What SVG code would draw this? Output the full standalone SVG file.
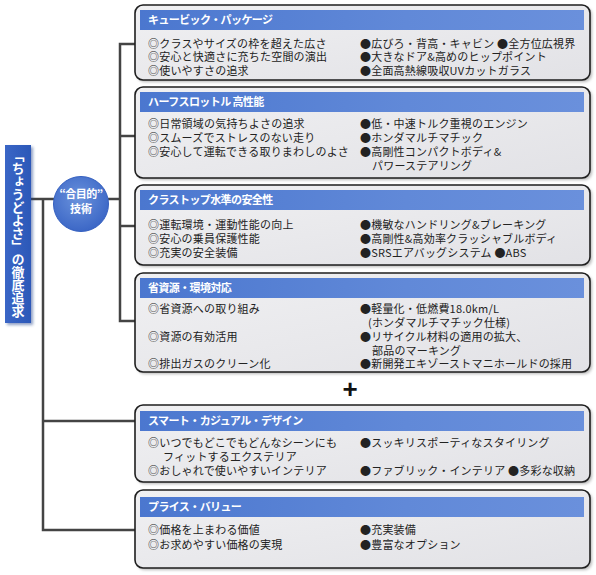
<svg xmlns="http://www.w3.org/2000/svg" width="596" height="575" viewBox="0 0 596 575">
<defs>
<linearGradient id="boxg" x1="0" y1="0" x2="1" y2="1"><stop offset="0" stop-color="#f0f0f2"/><stop offset="1" stop-color="#e2e2e6"/></linearGradient>
<linearGradient id="hdr" x1="0" y1="0" x2="1" y2="0"><stop offset="0" stop-color="#4b77cf"/><stop offset="0.6" stop-color="#6189d8"/><stop offset="1" stop-color="#6a90dc"/></linearGradient>
<linearGradient id="lbl" x1="0" y1="0" x2="1" y2="0"><stop offset="0" stop-color="#3a66c6"/><stop offset="1" stop-color="#2c58b8"/></linearGradient>
<radialGradient id="circ" cx="0.45" cy="0.4" r="0.6"><stop offset="0" stop-color="#6a92dc"/><stop offset="1" stop-color="#3c67c6"/></radialGradient>
<filter id="sh" x="-5%" y="-5%" width="115%" height="125%"><feGaussianBlur stdDeviation="1.5"/></filter>
</defs>
<style>
.box{fill:url(#boxg);stroke:#1e1e1e;stroke-width:1.6}
.shd{fill:#8a8a8a;opacity:0.6}
.hd{fill:url(#hdr)}
.ttl{font-family:"Noto Sans CJK JP","Noto Sans",sans-serif;font-size:11px;font-weight:bold;fill:#fff;letter-spacing:-0.6px}
.t{font-family:"Noto Sans CJK JP","Noto Sans",sans-serif;font-size:11px;fill:#222;letter-spacing:0.2px}
.con{fill:none;stroke:#444;stroke-width:2.5}
.wt{font-family:"Noto Sans CJK JP","Noto Sans",sans-serif;font-weight:bold;fill:#fff}
</style>
<rect width="596" height="575" fill="#fff"/>
<g id="connectors">
<path class="con" d="M31 199 H54"/>
<path class="con" d="M43 199 V530 H135"/>
<path class="con" d="M43 421 H135"/>
<path class="con" d="M108 199 H120"/>
<path class="con" d="M135 44 H120 V321 H135"/>
<path class="con" d="M120 136 H135"/>
<path class="con" d="M120 226 H135"/>
</g>
<g id="label">
<rect x="7" y="147" width="26" height="178" fill="#1e3f8a" opacity="0.5" filter="url(#sh)"/>
<rect x="5" y="145" width="26" height="178" fill="url(#lbl)"/>
<text class="wt" x="18" y="149" font-size="13" style="writing-mode:vertical-rl">「ちょうどよさ」の徹底追求</text>
</g>
<g id="circle">
<circle cx="81" cy="204" r="27.5" fill="url(#circ)" stroke="#3560c0" stroke-width="1"/>
<text class="wt" x="81" y="198" font-size="11" text-anchor="middle" letter-spacing="-0.5">“合目的”</text>
<text class="wt" x="81" y="213" font-size="11" text-anchor="middle">技術</text>
</g>
<g id="box1">
<rect class="shd" x="137" y="7" width="455" height="75" rx="8" filter="url(#sh)"/>
<rect class="box" x="135" y="5" width="455" height="75" rx="8"/>
<rect class="hd" x="140" y="10" width="444" height="20"/>
<text class="ttl" x="148" y="24">キュービック・パッケージ</text>
<text class="t" x="148" y="48">◎クラスやサイズの枠を超えた広さ</text>
<text class="t" x="148" y="61">◎安心と快適さに充ちた空間の演出</text>
<text class="t" x="148" y="75">◎使いやすさの追求</text>
<text class="t" x="360" y="48">●広びろ・背高・キャビン ●全方位広視界</text>
<text class="t" x="360" y="61">●大きなドア&amp;高めのヒップポイント</text>
<text class="t" x="360" y="75">●全面高熱線吸収UVカットガラス</text>
</g>
<g id="box2">
<rect class="shd" x="137" y="89" width="455" height="91" rx="8" filter="url(#sh)"/>
<rect class="box" x="135" y="87" width="455" height="91" rx="8"/>
<rect class="hd" x="140" y="92" width="444" height="20"/>
<text class="ttl" x="148" y="106">ハーフスロットル 高性能</text>
<text class="t" x="148" y="128">◎日常領域の気持ちよさの追求</text>
<text class="t" x="148" y="142">◎スムーズでストレスのない走り</text>
<text class="t" x="148" y="156">◎安心して運転できる取りまわしのよさ</text>
<text class="t" x="360" y="128">●低・中速トルク重視のエンジン</text>
<text class="t" x="360" y="142">●ホンダマルチマチック</text>
<text class="t" x="360" y="156">●高剛性コンパクトボディ&amp;</text>
<text class="t" x="372" y="170">パワーステアリング</text>
</g>
<g id="box3">
<rect class="shd" x="137" y="187" width="455" height="80" rx="8" filter="url(#sh)"/>
<rect class="box" x="135" y="185" width="455" height="80" rx="8"/>
<rect class="hd" x="140" y="190" width="444" height="20"/>
<text class="ttl" x="148" y="204">クラストップ水準の安全性</text>
<text class="t" x="148" y="229">◎運転環境・運動性能の向上</text>
<text class="t" x="148" y="243">◎安心の乗員保護性能</text>
<text class="t" x="148" y="257">◎充実の安全装備</text>
<text class="t" x="360" y="229">●機敏なハンドリング&amp;ブレーキング</text>
<text class="t" x="360" y="243">●高剛性&amp;高効率クラッシャブルボディ</text>
<text class="t" x="360" y="257">●SRSエアバッグシステム ●ABS</text>
</g>
<g id="box4">
<rect class="shd" x="137" y="275" width="455" height="99" rx="8" filter="url(#sh)"/>
<rect class="box" x="135" y="273" width="455" height="99" rx="8"/>
<rect class="hd" x="140" y="278" width="444" height="20"/>
<text class="ttl" x="148" y="292">省資源・環境対応</text>
<text class="t" x="148" y="313">◎省資源への取り組み</text>
<text class="t" x="148" y="341">◎資源の有効活用</text>
<text class="t" x="148" y="368">◎排出ガスのクリーン化</text>
<text class="t" x="360" y="313">●軽量化・低燃費18.0km/L</text>
<text class="t" x="368" y="327">(ホンダマルチマチック仕様)</text>
<text class="t" x="360" y="341">●リサイクル材料の適用の拡大、</text>
<text class="t" x="372" y="355">部品のマーキング</text>
<text class="t" x="360" y="368">●新開発エキゾーストマニホールドの採用</text>
</g>
<g id="plus">
<text x="350" y="398" font-family="Liberation Sans,sans-serif" font-size="26" font-weight="bold" fill="#111" text-anchor="middle">+</text>
</g>
<g id="box5">
<rect class="shd" x="137" y="407" width="455" height="77" rx="8" filter="url(#sh)"/>
<rect class="box" x="135" y="405" width="455" height="77" rx="8"/>
<rect class="hd" x="140" y="411" width="444" height="20"/>
<text class="ttl" x="148" y="425">スマート・カジュアル・デザイン</text>
<text class="t" x="148" y="447">◎いつでもどこでもどんなシーンにも</text>
<text class="t" x="163" y="461">フィットするエクステリア</text>
<text class="t" x="148" y="475">◎おしゃれで使いやすいインテリア</text>
<text class="t" x="360" y="447">●スッキリスポーティなスタイリング</text>
<text class="t" x="360" y="475">●ファブリック・インテリア ●多彩な収納</text>
</g>
<g id="box6">
<rect class="shd" x="137" y="492" width="455" height="78" rx="8" filter="url(#sh)"/>
<rect class="box" x="135" y="490" width="455" height="78" rx="8"/>
<rect class="hd" x="140" y="497" width="444" height="20"/>
<text class="ttl" x="148" y="511">プライス・バリュー</text>
<text class="t" x="148" y="534">◎価格を上まわる価値</text>
<text class="t" x="148" y="549">◎お求めやすい価格の実現</text>
<text class="t" x="360" y="534">●充実装備</text>
<text class="t" x="360" y="549">●豊富なオプション</text>
</g>
</svg>
